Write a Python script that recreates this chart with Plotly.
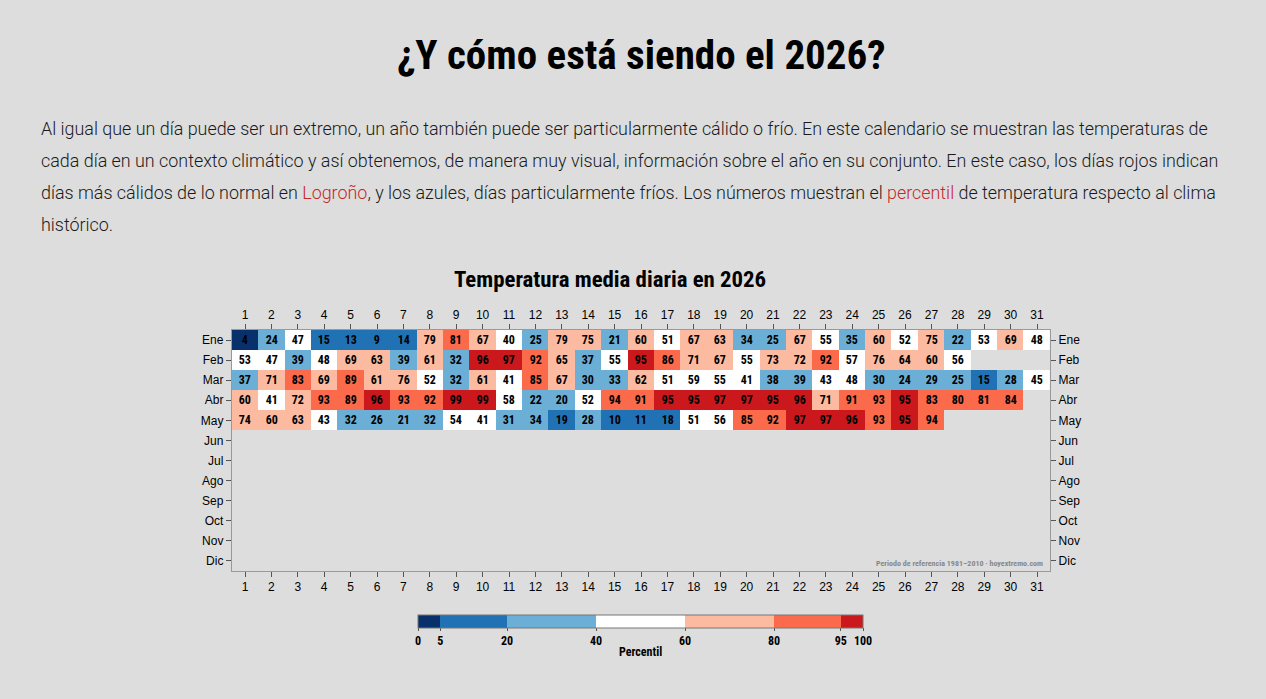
import plotly.graph_objects as go

W, H = 1266, 699

months = ["Ene", "Feb", "Mar", "Abr", "May", "Jun", "Jul", "Ago", "Sep", "Oct", "Nov", "Dic"]
days = list(range(1, 32))

ene = [4, 24, 47, 15, 13, 9, 14, 79, 81, 67, 40, 25, 79, 75, 21, 60, 51, 67, 63, 34, 25, 67, 55, 35, 60, 52, 75, 22, 53, 69, 48]
feb = [53, 47, 39, 48, 69, 63, 39, 61, 32, 96, 97, 92, 65, 37, 55, 95, 86, 71, 67, 55, 73, 72, 92, 57, 76, 64, 60, 56]
mar = [37, 71, 83, 69, 89, 61, 76, 52, 32, 61, 41, 85, 67, 30, 33, 62, 51, 59, 55, 41, 38, 39, 43, 48, 30, 24, 29, 25, 15, 28, 45]
abr = [60, 41, 72, 93, 89, 96, 93, 92, 99, 99, 58, 22, 20, 52, 94, 91, 95, 95, 97, 97, 95, 96, 71, 91, 93, 95, 83, 80, 81, 84]
may = [74, 60, 63, 43, 32, 26, 21, 32, 54, 41, 31, 34, 19, 28, 10, 11, 18, 51, 56, 85, 92, 97, 97, 96, 93, 95, 94]

bin_edges = [0, 5, 20, 40, 60, 80, 95, 100]
bin_colors = ["#08306b", "#2171b5", "#6baed6", "#ffffff", "#fcbba1", "#fb6a4a", "#cb181d"]

rows = [ene, feb, mar, abr, may]
z = []
for i in range(12):
    r = rows[i] if i < len(rows) else []
    z.append([r[d] if d < len(r) else None for d in range(31)])

colorscale = []
for i, c in enumerate(bin_colors):
    colorscale.append([bin_edges[i] / 100, c])
    colorscale.append([bin_edges[i + 1] / 100, c])

COND = "Roboto Condensed, Liberation Sans Narrow, DejaVu Sans Condensed, Arial Narrow, sans-serif"
REG = "Liberation Sans, Arial, sans-serif"

# plot area in pixels
x0, x1 = 231.8, 1050.2
y0, y1 = 330, 571
dx = [x0 / W, x1 / W]
dy = [1 - y1 / H, 1 - y0 / H]

fig = go.Figure()
fig.add_trace(go.Heatmap(
    x=days, y=list(range(12)), z=z,
    zmin=0, zmax=100, colorscale=colorscale,
    texttemplate="%{z}", textfont=dict(family=COND, size=12, color="black", weight="bold"),
    hoverongaps=False,
    colorbar=dict(
        orientation="h", x=640.5 / W, xanchor="center", y=1 - 615 / H, yanchor="top",
        lenmode="pixels", len=445, thickness=13, ypad=0, xpad=0,
        outlinecolor="#777", outlinewidth=1,
        tickvals=bin_edges, ticktext=[str(v) for v in bin_edges],
        ticks="outside", ticklen=3, tickcolor="#555",
        tickfont=dict(family=COND, size=12, color="black", weight="bold"),
    ),
))
fig.add_trace(go.Scatter(x=days, y=[0] * len(days), xaxis="x2", yaxis="y2", mode="markers",
                         marker=dict(opacity=0), hoverinfo="skip", showlegend=False))

ax_common = dict(showline=True, linecolor="#999", linewidth=1, ticks="outside", ticklen=5,
                 tickcolor="#555", showgrid=False, zeroline=False,
                 tickfont=dict(family=REG, size=12, color="black"))

fig.update_layout(
    width=W, height=H, margin=dict(l=0, r=0, t=0, b=0),
    paper_bgcolor="#dddddd", plot_bgcolor="#dddddd",
    xaxis=dict(domain=dx, range=[0.5, 31.5], tickvals=days, anchor="y", **ax_common),
    xaxis2=dict(domain=dx, range=[0.5, 31.5], tickvals=days, overlaying="x", side="top", anchor="y", **ax_common),
    yaxis=dict(domain=dy, range=[11.5, -0.5], tickvals=list(range(12)), ticktext=months, anchor="x", **ax_common),
    yaxis2=dict(domain=dy, range=[11.5, -0.5], tickvals=list(range(12)), ticktext=months, overlaying="y",
                side="right", anchor="x", **ax_common),
    showlegend=False,
)

annots = []
annots.append(dict(text="¿Y cómo está siendo el 2026?", x=641 / W, y=1 - 55 / H, xanchor="center", yanchor="middle",
                   font=dict(family=COND, size=41, color="black", weight="bold")))
body_font = dict(family="Roboto, sans-serif", size=17.9, color="#1a1a1a", weight=300)
RED = "#c62828"
lines = [
    "Al igual que un día puede ser un extremo, un año también puede ser particularmente cálido o frío. En este calendario se muestran las temperaturas de",
    "cada día en un contexto climático y así obtenemos, de manera muy visual, información sobre el año en su conjunto. En este caso, los días rojos indican",
    "días más cálidos de lo normal en <span style='color:%s'>Logroño</span>, y los azules, días particularmente fríos. Los números muestran el <span style='color:%s'>percentil</span> de temperatura respecto al clima" % (RED, RED),
    "histórico.",
]
for i, t in enumerate(lines):
    annots.append(dict(text=t, x=39 / W, y=1 - (128 + 32 * i) / H, xanchor="left", yanchor="middle", font=body_font))
annots.append(dict(text="Temperatura media diaria en 2026", x=610 / W, y=1 - 279 / H, xanchor="center", yanchor="middle",
                   font=dict(family=COND, size=22.8, color="black", weight="bold")))
annots.append(dict(text="Percentil", x=640.5 / W, y=1 - 652 / H, xanchor="center", yanchor="middle",
                   font=dict(family=COND, size=12, color="black", weight="bold")))
annots.append(dict(text="Periodo de referencia 1981–2010 · hoyextremo.com", x=1045 / W, y=1 - 563 / H,
                   xanchor="right", yanchor="middle", font=dict(family=COND, size=8, color="#888", weight="bold")))
for a in annots:
    a.update(xref="paper", yref="paper", showarrow=False)
fig.update_layout(annotations=annots)

fig.write_html("out.html")
